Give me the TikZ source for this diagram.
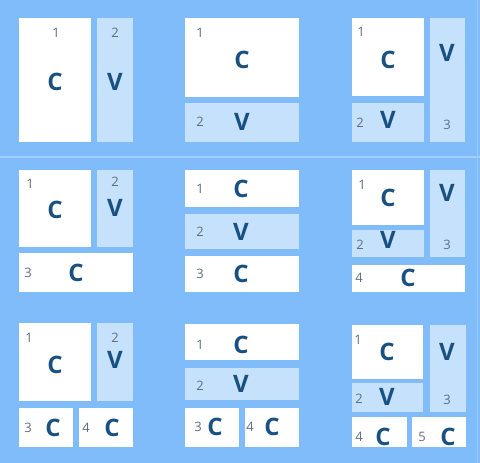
\documentclass[tikz,border=0pt]{standalone}
\usepackage{fontspec}
\setmainfont{Open Sans}
\definecolor{bgblue}{RGB}{128,188,250}
\definecolor{paneblue}{RGB}{197,225,252}
\definecolor{sepblue}{RGB}{162,206,252}
\definecolor{letterblue}{RGB}{24,80,130}
\definecolor{numgray}{RGB}{95,110,128}
\tikzset{
  wbox/.style={fill=white, draw=none},
  lbox/.style={fill=paneblue, draw=none},
  letter/.style={inner sep=0pt, text=letterblue, font=\fontsize{24}{24}\selectfont\bfseries},
  num/.style={inner sep=0pt, text=numgray, font=\fontsize{13}{13}\selectfont},
}
\newcommand{\W}[4]{\fill[white] (#1,#2) rectangle (#3,#4);}
\newcommand{\Lb}[4]{\fill[paneblue] (#1,#2) rectangle (#3,#4);}
\begin{document}
\begin{tikzpicture}[x=1pt,y=-1pt]
\fill[bgblue] (0,0) rectangle (480,463);
\useasboundingbox (0,0) rectangle (480,463);
\draw[sepblue, line width=1.2pt] (0,157) -- (480,157);
\draw[sepblue!70!bgblue, line width=0.8pt] (477,0) -- (477,463);
% Panel 1
\W{19}{18}{91}{142} \Lb{97}{18}{133}{142}
\node[num] (p1n1) at (56,33) {1}; \node[letter] (p1c1) at (55,82) {C};
\node[num] (p1n2) at (115,33) {2}; \node[letter] (p1v2) at (115,82) {V};
% Panel 2
\W{185}{18}{299}{97} \Lb{185}{103}{299}{142}
\node[num] (p2n1) at (200,33) {1}; \node[letter] (p2c1) at (242,60) {C};
\node[num] (p2n2) at (200,122) {2}; \node[letter] (p2v2) at (242,122) {V};
% Panel 3
\W{352}{18}{424}{96} \Lb{352}{103}{424}{142} \Lb{430}{18}{465}{142}
\node[num] (p3n1) at (361,32) {1}; \node[letter] (p3c1) at (388,60) {C};
\node[num] (p3n2) at (360,123) {2}; \node[letter] (p3v2) at (388,120) {V};
\node[letter] (p3v3) at (447,53) {V}; \node[num] (p3n3) at (447,125) {3};
% Panel 4
\W{19}{170}{91}{247} \Lb{97}{170}{133}{247} \W{19}{253}{133}{292}
\node[num] (p4n1) at (30,184) {1}; \node[letter] (p4c1) at (55,210) {C};
\node[num] (p4n2) at (115,182) {2}; \node[letter] (p4v2) at (115,208) {V};
\node[num] (p4n3) at (28,273) {3}; \node[letter] (p4c3) at (76,273) {C};
% Panel 5
\W{185}{170}{299}{207} \Lb{185}{214}{299}{249} \W{185}{256}{299}{292}
\node[num] (p5n1) at (200,189) {1}; \node[letter] (p5c1) at (241,189) {C};
\node[num] (p5n2) at (200,232) {2}; \node[letter] (p5v2) at (241,232) {V};
\node[num] (p5n3) at (200,274) {3}; \node[letter] (p5c3) at (241,274) {C};
% Panel 6
\W{352}{170}{424}{225} \Lb{352}{230}{424}{257} \Lb{430}{170}{465}{257} \W{352}{265}{465}{292}
\node[num] (p6n1) at (362,185) {1}; \node[letter] (p6c1) at (388,198) {C};
\node[letter] (p6v3) at (447,193) {V}; \node[num] (p6n3) at (447,245) {3};
\node[num] (p6n2) at (360,245) {2}; \node[letter] (p6v2) at (388,240) {V};
\node[num] (p6n4) at (359,278) {4}; \node[letter] (p6c4) at (408,278) {C};
% Panel 7
\W{19}{323}{91}{401} \Lb{97}{323}{133}{401} \W{19}{408}{73}{447} \W{79}{408}{133}{447}
\node[num] (p7n1) at (29,338) {1}; \node[letter] (p7c1) at (55,365) {C};
\node[num] (p7n2) at (115,338) {2}; \node[letter] (p7v2) at (115,360) {V};
\node[num] (p7n3) at (28,428) {3}; \node[letter] (p7c3) at (53,428) {C};
\node[num] (p7n4) at (86,428) {4}; \node[letter] (p7c4) at (112,428) {C};
% Panel 8
\W{185}{324}{299}{360} \Lb{185}{368}{299}{400} \W{185}{408}{239}{447} \W{245}{408}{299}{447}
\node[num] (p8n1) at (200,345) {1}; \node[letter] (p8c1) at (241,345) {C};
\node[num] (p8n2) at (200,386) {2}; \node[letter] (p8v2) at (241,384) {V};
\node[num] (p8n3) at (198,427) {3}; \node[letter] (p8c3) at (215,427) {C};
\node[num] (p8n4) at (250,427) {4}; \node[letter] (p8c4) at (272,427) {C};
% Panel 9
\W{352}{325}{423}{379} \Lb{352}{383}{423}{412} \Lb{430}{325}{466}{412} \W{352}{417}{407}{447} \W{412}{417}{466}{447}
\node[num] (p9n1) at (358,340) {1}; \node[letter] (p9c1) at (387,352) {C};
\node[letter] (p9v3) at (447,352) {V}; \node[num] (p9n3) at (447,400) {3};
\node[num] (p9n2) at (359,399) {2}; \node[letter] (p9v2) at (387,397) {V};
\node[num] (p9n4) at (359,437) {4}; \node[letter] (p9c4) at (383,437) {C};
\node[num] (p9n5) at (422,437) {5}; \node[letter] (p9c5) at (448,437) {C};
\end{tikzpicture}
\end{document}
